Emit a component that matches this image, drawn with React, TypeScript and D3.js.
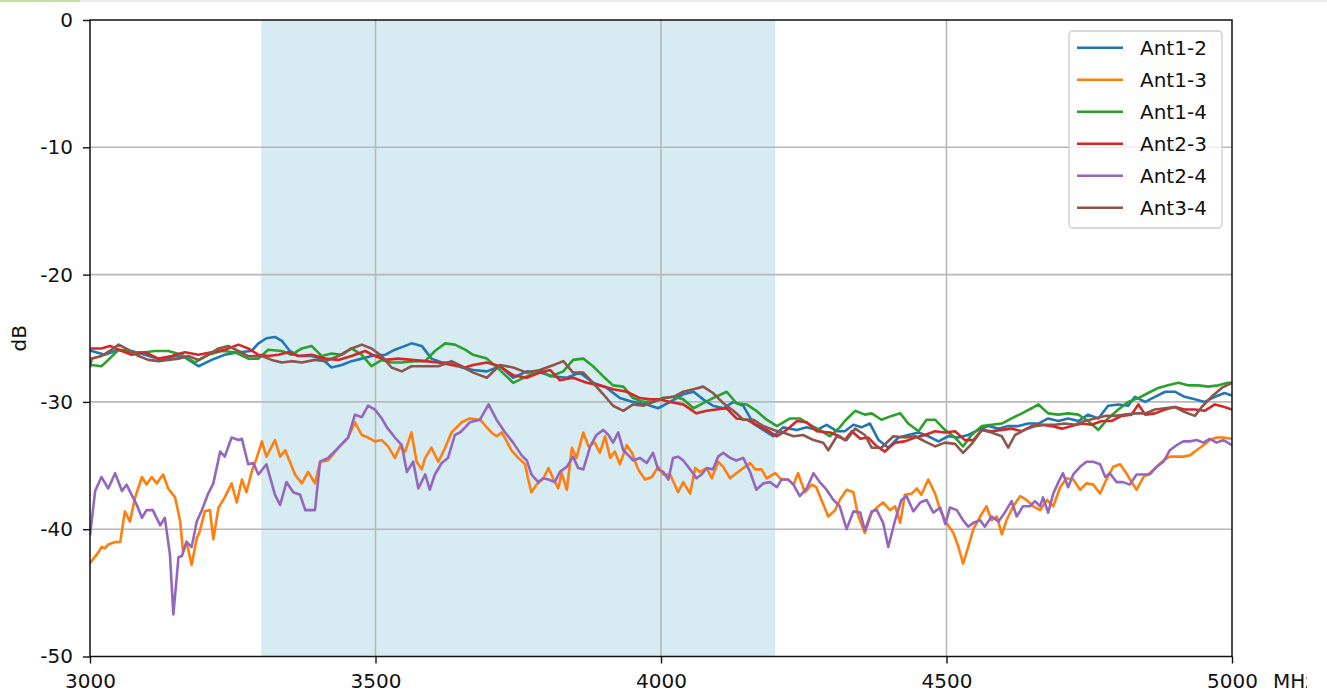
import React, { useEffect, useMemo, useRef } from 'react';
import * as d3 from 'd3';

type Pt = [number, number]; // [MHz, dB]

const ant12: Pt[] = [
  [3000, -26.0], [3003, -26.0], [3026, -26.3], [3050, -25.9], [3073, -26.0], [3096, -26.3], [3126, -26.7], [3149, -26.4],
  [3166, -26.5], [3190, -27.2], [3213, -26.7], [3236, -26.3], [3260, -26.1], [3283, -26.0], [3295, -25.4], [3309, -25.0],
  [3324, -24.9], [3336, -25.2], [3350, -26.0], [3365, -26.4], [3388, -26.4], [3406, -26.6], [3423, -27.3], [3441, -27.1],
  [3458, -26.8], [3476, -26.6], [3493, -26.4], [3517, -26.3], [3534, -25.9], [3552, -25.6], [3563, -25.4], [3581, -25.6],
  [3598, -26.6], [3616, -26.9], [3633, -26.9], [3651, -27.3], [3671, -27.5], [3695, -27.6], [3718, -27.2], [3741, -28.1],
  [3765, -27.6], [3788, -27.7], [3812, -28.0], [3835, -28.1], [3858, -27.7], [3881, -28.5], [3905, -28.9], [3928, -29.7],
  [3951, -30.0], [3975, -30.2], [3995, -30.5], [4016, -30.0], [4039, -29.4], [4057, -29.2], [4074, -29.8], [4091, -30.3],
  [4109, -30.5], [4127, -30.0], [4144, -30.3], [4162, -31.7], [4179, -32.2], [4197, -32.7], [4214, -32.0], [4238, -32.2],
  [4255, -32.0], [4273, -32.2], [4290, -31.8], [4308, -32.3], [4322, -32.3], [4337, -31.8], [4351, -32.0], [4366, -31.7],
  [4381, -33.0], [4398, -33.6], [4416, -32.8], [4433, -32.6], [4451, -32.4], [4468, -32.7], [4486, -33.1], [4503, -32.7],
  [4521, -32.8], [4538, -32.6], [4556, -32.2], [4573, -31.9], [4591, -32.1], [4608, -31.9], [4626, -31.9], [4643, -31.7],
  [4661, -31.7], [4678, -31.3], [4696, -31.5], [4713, -31.3], [4731, -31.5], [4748, -31.0], [4766, -31.3], [4783, -30.3],
  [4801, -30.2], [4818, -30.3], [4830, -29.6], [4848, -30.0], [4865, -29.6], [4883, -29.2], [4900, -29.2], [4917, -29.6],
  [4935, -29.8], [4952, -30.0], [4970, -29.6], [4987, -29.3], [5000, -29.5],
];

const ant13: Pt[] = [
  [3000, -42.7], [3003, -42.5], [3015, -41.8], [3020, -41.4], [3026, -41.5], [3032, -41.2], [3044, -41.0], [3053, -41.0],
  [3061, -38.6], [3070, -39.4], [3079, -37.5], [3091, -35.9], [3099, -36.5], [3108, -35.9], [3117, -36.4], [3128, -35.7],
  [3137, -36.8], [3149, -37.5], [3158, -39.4], [3163, -41.8], [3169, -41.0], [3178, -42.8], [3187, -40.7], [3192, -40.2],
  [3201, -38.6], [3210, -38.5], [3216, -40.8], [3225, -38.3], [3236, -37.5], [3248, -36.4], [3257, -37.9], [3266, -36.1],
  [3274, -37.1], [3283, -35.5], [3292, -34.4], [3301, -33.1], [3309, -34.3], [3324, -33.0], [3333, -34.3], [3342, -33.8],
  [3350, -34.7], [3359, -35.7], [3371, -36.4], [3382, -35.5], [3394, -36.4], [3403, -34.7], [3417, -34.6], [3435, -33.6],
  [3452, -32.8], [3464, -31.6], [3476, -32.6], [3487, -32.8], [3499, -33.1], [3511, -33.0], [3522, -33.5], [3534, -34.4],
  [3543, -33.5], [3552, -33.9], [3563, -32.4], [3572, -34.7], [3581, -35.3], [3587, -34.4], [3598, -33.6], [3610, -34.7],
  [3622, -33.6], [3633, -32.4], [3642, -32.0], [3651, -31.6], [3665, -31.3], [3683, -31.4], [3695, -32.0], [3703, -32.4],
  [3712, -32.7], [3721, -32.4], [3730, -33.1], [3738, -33.8], [3750, -34.4], [3762, -34.9], [3767, -36.0], [3773, -37.1],
  [3782, -36.5], [3794, -36.0], [3803, -35.2], [3811, -36.0], [3820, -36.8], [3826, -35.6], [3835, -36.9], [3844, -33.6],
  [3852, -34.4], [3864, -32.4], [3873, -33.5], [3884, -33.2], [3893, -34.0], [3902, -32.7], [3911, -34.4], [3919, -33.9],
  [3928, -34.9], [3940, -33.4], [3949, -34.0], [3960, -35.3], [3972, -36.1], [3984, -35.9], [3995, -35.1], [4004, -35.7],
  [4016, -35.7], [4030, -37.1], [4039, -36.3], [4051, -37.2], [4060, -35.2], [4068, -35.5], [4080, -35.2], [4089, -36.0],
  [4100, -34.7], [4109, -35.1], [4121, -36.0], [4132, -35.6], [4144, -35.2], [4156, -34.8], [4165, -35.3], [4176, -35.3],
  [4185, -36.0], [4200, -35.6], [4211, -36.1], [4223, -36.1], [4232, -36.5], [4240, -35.6], [4252, -37.1], [4264, -36.5],
  [4272, -36.7], [4281, -37.7], [4293, -39.0], [4305, -38.5], [4313, -37.7], [4325, -36.9], [4337, -37.1], [4345, -38.9],
  [4357, -40.3], [4369, -38.7], [4378, -38.3], [4389, -37.9], [4401, -38.5], [4410, -38.2], [4419, -39.5], [4427, -37.3],
  [4439, -37.2], [4448, -36.8], [4456, -37.3], [4468, -36.1], [4480, -37.2], [4489, -38.5], [4500, -39.5], [4512, -40.3],
  [4521, -41.4], [4529, -42.7], [4538, -41.4], [4547, -40.0], [4559, -39.0], [4570, -38.2], [4579, -39.3], [4588, -39.0],
  [4597, -40.4], [4605, -39.3], [4617, -38.2], [4629, -37.4], [4640, -37.7], [4652, -38.2], [4664, -38.5], [4676, -37.7],
  [4687, -38.2], [4699, -36.7], [4710, -36.0], [4722, -36.1], [4734, -36.9], [4745, -36.4], [4757, -36.5], [4769, -37.2],
  [4780, -36.1], [4792, -35.1], [4804, -34.9], [4815, -35.6], [4824, -36.3], [4833, -36.9], [4845, -35.9], [4856, -35.6],
  [4868, -35.1], [4880, -34.6], [4891, -34.3], [4903, -34.3], [4915, -34.3], [4926, -34.2], [4938, -33.8], [4950, -33.4],
  [4961, -33.0], [4973, -32.8], [4985, -32.8], [5000, -32.9],
];

const ant14: Pt[] = [
  [3000, -27.0], [3003, -27.1], [3020, -27.2], [3032, -26.7], [3050, -25.9], [3073, -26.1], [3096, -26.1], [3114, -26.0],
  [3137, -26.0], [3161, -26.3], [3184, -26.9], [3207, -26.3], [3231, -26.0], [3254, -26.1], [3277, -26.6], [3295, -26.6],
  [3312, -25.9], [3336, -26.0], [3353, -26.3], [3371, -25.8], [3388, -25.6], [3406, -26.4], [3423, -26.2], [3441, -26.3],
  [3458, -25.8], [3476, -26.3], [3493, -27.2], [3511, -26.7], [3528, -26.9], [3546, -26.9], [3569, -26.8], [3587, -26.8],
  [3604, -26.0], [3622, -25.4], [3639, -25.5], [3657, -25.9], [3671, -26.3], [3695, -26.6], [3718, -27.5], [3741, -28.5],
  [3765, -28.0], [3788, -27.5], [3806, -28.0], [3829, -27.6], [3846, -26.7], [3864, -26.6], [3881, -27.2], [3899, -28.0],
  [3916, -28.7], [3934, -28.8], [3951, -29.7], [3969, -30.0], [3987, -30.0], [4004, -29.7], [4022, -29.6], [4039, -29.8],
  [4057, -30.5], [4074, -30.1], [4091, -29.7], [4115, -29.2], [4132, -30.1], [4150, -30.2], [4167, -30.7], [4185, -31.4],
  [4203, -31.9], [4226, -31.3], [4243, -31.3], [4261, -31.8], [4278, -32.2], [4296, -32.7], [4313, -32.0], [4322, -31.5],
  [4340, -30.7], [4357, -31.0], [4369, -30.9], [4386, -31.4], [4404, -31.1], [4419, -30.9], [4433, -31.7], [4451, -32.3],
  [4465, -31.4], [4480, -31.4], [4497, -32.2], [4515, -32.8], [4529, -33.5], [4544, -32.6], [4562, -31.9], [4579, -31.8],
  [4597, -31.7], [4614, -31.3], [4632, -30.9], [4649, -30.5], [4661, -30.2], [4678, -30.9], [4696, -31.0], [4713, -30.9],
  [4731, -31.0], [4748, -31.5], [4766, -32.2], [4783, -31.3], [4801, -30.6], [4818, -30.0], [4836, -29.7], [4853, -29.3],
  [4871, -28.9], [4888, -28.7], [4906, -28.5], [4923, -28.7], [4941, -28.7], [4958, -28.8], [4976, -28.7], [4993, -28.5],
  [5000, -28.5],
];

const ant23: Pt[] = [
  [3000, -25.8], [3003, -25.8], [3020, -25.8], [3035, -25.6], [3050, -25.9], [3073, -26.3], [3096, -26.1], [3120, -26.6],
  [3143, -26.4], [3166, -26.1], [3190, -26.3], [3213, -26.1], [3236, -25.9], [3260, -25.5], [3277, -25.8], [3295, -26.3],
  [3312, -26.4], [3330, -26.3], [3347, -26.1], [3365, -26.4], [3388, -26.3], [3412, -26.6], [3435, -26.7], [3458, -26.4],
  [3482, -26.0], [3499, -26.4], [3517, -26.7], [3540, -26.6], [3563, -26.7], [3587, -26.8], [3610, -26.9], [3633, -27.1],
  [3657, -27.3], [3671, -27.1], [3695, -26.9], [3718, -27.2], [3741, -27.9], [3765, -28.1], [3788, -27.7], [3806, -27.5],
  [3823, -28.3], [3846, -28.1], [3870, -28.5], [3893, -28.7], [3916, -29.0], [3940, -29.2], [3963, -29.7], [3981, -29.8],
  [3998, -29.8], [4016, -30.0], [4039, -30.2], [4062, -30.9], [4080, -30.7], [4097, -30.6], [4115, -30.5], [4132, -31.3],
  [4150, -31.4], [4167, -31.8], [4185, -32.2], [4203, -32.7], [4220, -32.2], [4238, -31.5], [4255, -31.6], [4273, -32.3],
  [4296, -32.4], [4313, -32.7], [4322, -33.0], [4334, -32.3], [4349, -32.9], [4363, -32.8], [4378, -33.5], [4392, -33.9],
  [4410, -33.2], [4427, -33.1], [4445, -32.8], [4462, -32.6], [4480, -32.3], [4497, -32.4], [4515, -32.3], [4532, -33.0],
  [4547, -33.0], [4562, -32.2], [4579, -32.3], [4597, -32.2], [4614, -32.1], [4632, -32.3], [4649, -31.9], [4667, -31.8],
  [4684, -31.9], [4702, -32.1], [4719, -31.9], [4737, -31.7], [4754, -31.8], [4772, -31.5], [4789, -31.5], [4807, -31.1],
  [4824, -31.0], [4836, -30.2], [4848, -31.0], [4865, -30.9], [4883, -30.6], [4900, -30.4], [4917, -30.6], [4935, -30.6],
  [4952, -30.7], [4970, -30.2], [4987, -30.4], [5000, -30.6],
];

const ant24: Pt[] = [
  [3000, -40.5], [3009, -37.0], [3020, -35.9], [3032, -36.8], [3044, -35.6], [3056, -37.0], [3064, -36.5], [3073, -37.3],
  [3082, -38.1], [3091, -39.1], [3099, -38.5], [3110, -38.5], [3123, -39.7], [3131, -39.1], [3140, -42.0], [3146, -46.7],
  [3155, -42.2], [3161, -42.1], [3169, -41.0], [3178, -41.4], [3187, -39.4], [3196, -38.5], [3207, -37.2], [3216, -36.4],
  [3228, -33.9], [3236, -34.3], [3248, -32.8], [3260, -33.0], [3266, -32.9], [3277, -34.9], [3286, -34.8], [3295, -35.7],
  [3309, -34.9], [3324, -37.3], [3333, -38.1], [3344, -36.3], [3356, -37.1], [3368, -37.3], [3377, -38.5], [3394, -38.5],
  [3403, -34.7], [3417, -34.4], [3435, -33.6], [3452, -32.8], [3464, -31.0], [3476, -31.2], [3487, -30.3], [3499, -30.6],
  [3511, -31.3], [3520, -32.0], [3534, -32.8], [3546, -33.4], [3555, -35.5], [3566, -34.7], [3575, -36.8], [3587, -35.7],
  [3595, -36.9], [3604, -35.7], [3616, -34.8], [3627, -34.4], [3639, -32.6], [3648, -32.4], [3657, -32.0], [3665, -31.6],
  [3683, -31.4], [3698, -30.2], [3712, -31.4], [3727, -32.4], [3741, -33.2], [3756, -34.2], [3765, -34.6], [3773, -35.7],
  [3785, -36.3], [3794, -36.0], [3803, -36.1], [3814, -36.3], [3823, -35.5], [3835, -35.1], [3846, -34.3], [3855, -35.2],
  [3864, -35.3], [3876, -33.5], [3887, -32.6], [3899, -32.2], [3908, -32.6], [3916, -33.2], [3925, -32.4], [3934, -33.8],
  [3943, -34.2], [3951, -34.6], [3963, -34.4], [3975, -34.8], [3986, -34.0], [3995, -35.3], [4004, -35.5], [4013, -36.1],
  [4021, -34.4], [4030, -34.3], [4039, -34.6], [4051, -35.3], [4062, -36.0], [4071, -35.7], [4080, -35.2], [4091, -35.3],
  [4100, -34.3], [4109, -34.0], [4121, -34.4], [4132, -34.6], [4144, -34.4], [4156, -35.5], [4167, -36.9], [4179, -36.4],
  [4191, -36.3], [4203, -36.7], [4211, -36.1], [4223, -36.1], [4232, -36.5], [4243, -37.4], [4255, -36.8], [4267, -35.6],
  [4278, -36.3], [4290, -36.9], [4302, -37.7], [4313, -38.2], [4325, -40.0], [4337, -38.6], [4349, -38.7], [4357, -40.1],
  [4369, -38.6], [4378, -38.5], [4389, -39.5], [4398, -41.4], [4410, -39.3], [4421, -37.7], [4430, -37.4], [4442, -38.6],
  [4454, -37.9], [4465, -37.7], [4477, -38.7], [4489, -38.3], [4498, -39.6], [4506, -38.3], [4518, -38.5], [4529, -39.3],
  [4538, -39.8], [4547, -39.5], [4559, -39.3], [4567, -39.8], [4579, -39.0], [4591, -39.4], [4602, -38.7], [4614, -37.8],
  [4623, -39.0], [4634, -38.2], [4646, -38.2], [4655, -37.8], [4664, -38.2], [4669, -37.5], [4678, -38.7], [4687, -37.2],
  [4696, -36.3], [4704, -35.6], [4713, -36.7], [4722, -35.7], [4734, -35.1], [4745, -34.7], [4757, -34.7], [4769, -34.9],
  [4778, -35.9], [4786, -35.6], [4798, -36.3], [4809, -36.3], [4821, -36.5], [4833, -35.7], [4845, -35.7], [4856, -35.7],
  [4868, -35.1], [4880, -34.7], [4891, -33.8], [4903, -33.4], [4915, -33.1], [4926, -33.1], [4938, -33.0], [4950, -33.2],
  [4961, -32.9], [4973, -33.2], [4985, -33.0], [5000, -33.4],
];

const ant34: Pt[] = [
  [3000, -27.3], [3003, -26.6], [3020, -26.4], [3038, -25.9], [3050, -25.5], [3067, -25.9], [3085, -26.4], [3102, -26.7],
  [3120, -26.8], [3137, -26.7], [3155, -26.6], [3172, -26.4], [3190, -26.7], [3207, -26.3], [3225, -25.8], [3242, -25.6],
  [3260, -26.0], [3277, -26.4], [3301, -26.4], [3318, -26.7], [3336, -26.9], [3353, -26.8], [3371, -26.9], [3394, -26.7],
  [3412, -26.8], [3435, -26.4], [3458, -25.8], [3476, -25.5], [3493, -25.8], [3511, -26.4], [3528, -27.3], [3546, -27.6],
  [3563, -27.2], [3587, -27.2], [3610, -27.2], [3633, -26.8], [3651, -27.2], [3671, -27.7], [3695, -28.1], [3718, -27.1],
  [3741, -27.3], [3765, -27.7], [3788, -27.5], [3812, -27.1], [3829, -26.8], [3846, -27.7], [3864, -27.7], [3881, -28.5],
  [3899, -29.4], [3916, -30.3], [3934, -30.7], [3951, -30.2], [3969, -30.3], [3987, -30.0], [4004, -29.7], [4022, -29.6],
  [4039, -29.2], [4057, -29.0], [4074, -28.8], [4091, -29.3], [4109, -30.1], [4127, -30.7], [4144, -31.4], [4162, -31.4],
  [4179, -31.9], [4197, -32.2], [4214, -32.4], [4232, -32.7], [4249, -32.6], [4267, -33.0], [4284, -33.2], [4293, -33.8],
  [4308, -32.7], [4325, -33.0], [4340, -32.1], [4357, -32.6], [4369, -33.6], [4386, -33.6], [4407, -32.7], [4427, -32.8],
  [4445, -32.7], [4462, -33.1], [4480, -33.5], [4497, -33.2], [4515, -33.3], [4529, -34.0], [4544, -33.3], [4562, -32.2],
  [4579, -32.4], [4597, -32.7], [4608, -33.6], [4620, -32.6], [4637, -32.2], [4655, -31.9], [4672, -31.8], [4690, -31.8],
  [4707, -31.7], [4725, -31.8], [4742, -31.5], [4760, -31.3], [4778, -31.1], [4795, -31.1], [4813, -31.0], [4830, -30.9],
  [4848, -30.9], [4865, -30.6], [4883, -30.5], [4900, -30.4], [4917, -30.8], [4935, -31.1], [4947, -30.4], [4964, -29.6],
  [4982, -28.9], [5000, -28.5],
];

const seriesNames = ['Ant1-2', 'Ant1-3', 'Ant1-4', 'Ant2-3', 'Ant2-4', 'Ant3-4'];
const seriesData = [ant12, ant13, ant14, ant23, ant24, ant34];
const lineColor = ['#1f77b4', '#ff7f0e', '#2ca02c', '#d62728', '#9467bd', '#8c564b'];

const freqTicks = [3000, 3500, 4000, 4500, 5000];
const dbTicks = [0, -10, -20, -30, -40, -50];
const band = [3300, 4200];
const unitLabel = 'MHz';

const WIDTH = 1327;
const HEIGHT = 695;
const margin = { l: 90, r: 95, t: 20, b: 38.5 };
const FONT = '"DejaVu Sans", Verdana, sans-serif';
const LINE_W = 2.6;

const App = () => {
  const widthMap = WIDTH - margin.l - margin.r;
  const heightMap = HEIGHT - margin.t - margin.b;

  const xScale = useMemo(() => d3.scaleLinear().domain([3000, 5000]).range([0, widthMap]), [widthMap]);
  const yScale = useMemo(() => d3.scaleLinear().domain([-50, 0]).range([heightMap, 0]), [heightMap]);

  const $xaxis = useRef<SVGGElement>(null);
  const $yaxis = useRef<SVGGElement>(null);

  useEffect(() => {
    const xa = d3.select($xaxis.current as SVGGElement);
    xa.call(
      d3
        .axisBottom(xScale)
        .tickValues(freqTicks)
        .tickSize(7)
        .tickPadding(10)
        .tickFormat((d) => String(d)) as any
    );
    xa.select('.domain').remove();
    xa.attr('font-size', 20).attr('font-family', FONT);
    xa.selectAll('text').attr('fill', '#111');
    xa.selectAll('line').attr('stroke', '#111').attr('stroke-width', 1.4);

    const ya = d3.select($yaxis.current as SVGGElement);
    ya.call(
      d3
        .axisLeft(yScale)
        .tickValues(dbTicks)
        .tickSize(7)
        .tickPadding(10)
        .tickFormat((d) => String(d)) as any
    );
    ya.select('.domain').remove();
    ya.attr('font-size', 20).attr('font-family', FONT);
    ya.selectAll('text').attr('fill', '#111');
    ya.selectAll('line').attr('stroke', '#111').attr('stroke-width', 1.4);
  }, [xScale, yScale]);

  const line = d3
    .line<Pt>()
    .x((d) => xScale(d[0]))
    .y((d) => yScale(d[1]));

  // legend box sits 10px in from the right spine
  const legendW = 153;
  const legendX = widthMap - legendW - 10;
  const legendY = 11;

  return (
    <svg
      width={WIDTH}
      height={HEIGHT}
      style={{ position: 'absolute', left: 0, top: 0, background: '#fff' }}
    >
      <defs>
        <clipPath id="plot-clip">
          <rect x={0} y={0} width={widthMap} height={heightMap} />
        </clipPath>
        <clipPath id="page-clip">
          <rect x={0} y={0} width={1307} height={HEIGHT} />
        </clipPath>
      </defs>
      <rect x={0} y={0} width={WIDTH} height={2} fill="#ececec" />
      <rect x={0} y={0} width={80} height={2} fill="#c3e09f" />

      <g transform={`translate(${margin.l}, ${margin.t})`}>
        <rect
          x={xScale(band[0])}
          y={0}
          width={xScale(band[1]) - xScale(band[0])}
          height={heightMap}
          fill="#add8e6"
          fillOpacity={0.5}
        />
        <g className="grid">
          {freqTicks.slice(1, -1).map((t) => (
            <line key={`gx-${t}`} x1={xScale(t)} x2={xScale(t)} y1={0} y2={heightMap} stroke="#b8b8b8" strokeWidth={1.6} />
          ))}
          {dbTicks.slice(1, -1).map((t) => (
            <line key={`gy-${t}`} x1={0} x2={widthMap} y1={yScale(t)} y2={yScale(t)} stroke="#b8b8b8" strokeWidth={1.6} />
          ))}
        </g>

        <g clipPath="url(#plot-clip)">
          {seriesData.map((datum, i) => (
            <path
              key={seriesNames[i]}
              d={line(datum) || ''}
              stroke={lineColor[i]}
              strokeWidth={LINE_W}
              strokeLinejoin="round"
              fill="none"
            />
          ))}
        </g>

        <rect x={0} y={0} width={widthMap} height={heightMap} fill="none" stroke="#111" strokeWidth={1.5} />
        <g ref={$xaxis} transform={`translate(0, ${heightMap})`} />
        <g ref={$yaxis} />

        <g transform={`translate(${legendX}, ${legendY})`}>
          <rect x={0} y={0} width={legendW} height={197} rx={4} fill="#fff" fillOpacity={0.8} stroke="#cccccc" strokeWidth={1.3} />
          {seriesNames.map((name, i) => (
            <g key={name} transform={`translate(0, ${16.7 + i * 32})`}>
              <line x1={8} x2={54} y1={0} y2={0} stroke={lineColor[i]} strokeWidth={LINE_W} />
              <text x={71} y={7.3} fontSize={20} fontFamily={FONT} fill="#111">
                {name}
              </text>
            </g>
          ))}
        </g>
      </g>

      <text
        transform={`translate(26, ${margin.t + heightMap / 2}) rotate(-90)`}
        textAnchor="middle"
        fontSize={20}
        fontFamily={FONT}
        fill="#111"
      >
        dB
      </text>
      <text x={1273} y={688} fontSize={20} fontFamily={FONT} fill="#111" clipPath="url(#page-clip)">
        {unitLabel}
      </text>
    </svg>
  );
};

export default App;
